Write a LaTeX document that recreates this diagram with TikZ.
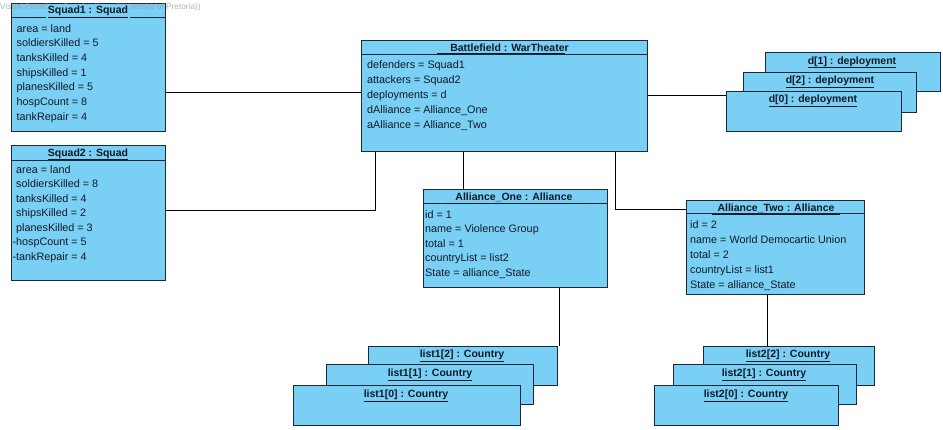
\documentclass[tikz,border=0pt]{standalone}
\usepackage{fontspec}
\setmainfont{Liberation Sans}
\definecolor{objfill}{HTML}{7ACFF5}
\definecolor{objline}{HTML}{1B2838}
\definecolor{txt}{HTML}{101A26}
\definecolor{wm}{HTML}{9A9A9A}
\tikzset{
  obj/.style={draw=objline, fill=objfill, line width=0.9pt, inner sep=0pt, anchor=north west},
  ttl/.style={font=\fontsize{10.5}{12}\selectfont\bfseries, text=txt, inner sep=0pt, anchor=base},
  attr/.style={font=\fontsize{10.8}{12}\selectfont, text=txt, inner sep=0pt, anchor=base west},
  conn/.style={draw=black, line width=0.8pt},
  sepline/.style={draw=objline, line width=0.9pt}
}
\newcommand\objbox[5]{\node[obj, minimum width={#4-#2}, minimum height={#5-#3}] (#1) at (#2,#3) {};}
\newcommand\attrs[5]{\foreach \t [count=\i] in {#5} {\node[attr] (#1-\i) at (#2, {#3+(\i-1)*#4}) {\t};}}
\newcommand\hdr[2]{\draw[sepline] ([yshift=-#2pt]#1.north west) -- ([yshift=-#2pt]#1.north east);}
\begin{document}
\begin{tikzpicture}[x=1pt, y=-1pt]
\useasboundingbox (0,0) rectangle (943,429);

\objbox{sq1}{11}{3}{165}{131}
\objbox{sq2}{11}{145}{165}{280}
\objbox{bf}{361}{40}{647}{151}
\objbox{d1}{765}{52}{940}{91}
\objbox{d2}{743}{72}{916}{112}
\objbox{d0}{726}{91}{901}{131}
\objbox{a1}{423}{189}{607}{287}
\objbox{a2}{686}{200}{864}{294}
\objbox{l12}{368}{346}{557}{385}
\objbox{l11}{326}{364}{533}{404}
\objbox{l10}{293}{385}{520}{425}
\objbox{l22}{703}{346}{874}{385}
\objbox{l21}{673}{364}{856}{404}
\objbox{l20}{654}{385}{838}{425}

\hdr{sq1}{14}
\hdr{sq2}{15}
\hdr{bf}{14}
\hdr{a1}{14}
\hdr{a2}{13}

% watermark (drawn over the box, under the title)
\node[font=\fontsize{8.3}{9}\selectfont, text=wm, opacity=0.75, anchor=base west, inner sep=0pt] (wmark) at (0,9.8) {Visual Paradigm Standard(user(University of Pretoria))};

% titles
\node[ttl, fill=objfill, inner xsep=2pt, inner ysep=1pt] (sq1t) at (88,13.5) {\underline{Squad1 : Squad}};
\node[ttl] (sq2t) at (88,156) {\underline{Squad2 : Squad}};
\node[ttl] (bft) at (503,51.7) {\underline{\hspace{13pt}Battlefield : WarTheate}r};
\node[ttl] (a1t) at (514,200.7) {\underline{\hspace{9pt}Alliance\_One : Alliance\hspace{9pt}}};
\node[ttl] (a2t) at (776,211.7) {\underline{\hspace{6pt}Alliance\_Two : Alliance\hspace{6pt}}};
\node[ttl] (d1t) at (852,64) {\underline{d[1] : deployment}};
\node[ttl] (d2t) at (830,83.3) {\underline{d[2] : deployment}};
\node[ttl] (d0t) at (813,102.3) {\underline{d[0] : deployment}};
\node[ttl] (l12t) at (462,357.7) {\underline{list1[2] : Country}};
\node[ttl] (l11t) at (430,376.7) {\underline{list1[1] : Country}};
\node[ttl] (l10t) at (406,397.3) {\underline{list1[0] : Country}};
\node[ttl] (l22t) at (788,357.7) {\underline{list2[2] : Country}};
\node[ttl] (l21t) at (764,376.7) {\underline{list2[1] : Country}};
\node[ttl] (l20t) at (746,397.3) {\underline{list2[0] : Country}};

% attributes
\attrs{sq1a}{16.5}{32}{14.7}{area = land, soldiersKilled = 5, tanksKilled = 4, shipsKilled = 1, planesKilled = 5, hospCount = 8, tankRepair = 4}
\attrs{sq2a}{16}{173}{14.5}{area = land, soldiersKilled = 8, tanksKilled = 4, shipsKilled = 2, planesKilled = 3, \llap{-}hospCount = 5, \llap{-}tankRepair = 4}
\attrs{bfa}{367}{68}{15}{defenders = Squad1, attackers = Squad2, deployments = d, dAlliance = Alliance\_One, aAlliance = Alliance\_Two}
\attrs{a1a}{425}{218}{14.5}{id = 1, name = Violence Group, total = 1, countryList = list2, State = alliance\_State}
\attrs{a2a}{690}{228}{15}{id = 2, name = World Democartic Union, total = 2, countryList = list1, State = alliance\_State}

% connectors
\draw[conn] (sq1.east |- 0,92) -- (bf.west |- 0,92);
\draw[conn] (bf.east |- 0,95) -- (d0.west |- 0,95);
\draw[conn] (sq2.east |- 0,210) -| ([xshift=14pt]bf.south west);
\draw[conn] ([xshift=40pt]a1.north west) coordinate (a1top) -- (a1top |- bf.south);
\draw[conn] ([yshift=-9pt]a2.north west) -| ([xshift=-33pt]bf.south east);
\draw[conn] ([xshift=-49pt]a1.south east) coordinate (a1bot) -- (a1bot |- l12.north);
\draw[conn] ([xshift=81pt]a2.south west) coordinate (a2bot) -- (a2bot |- l22.north);
\end{tikzpicture}
\end{document}
